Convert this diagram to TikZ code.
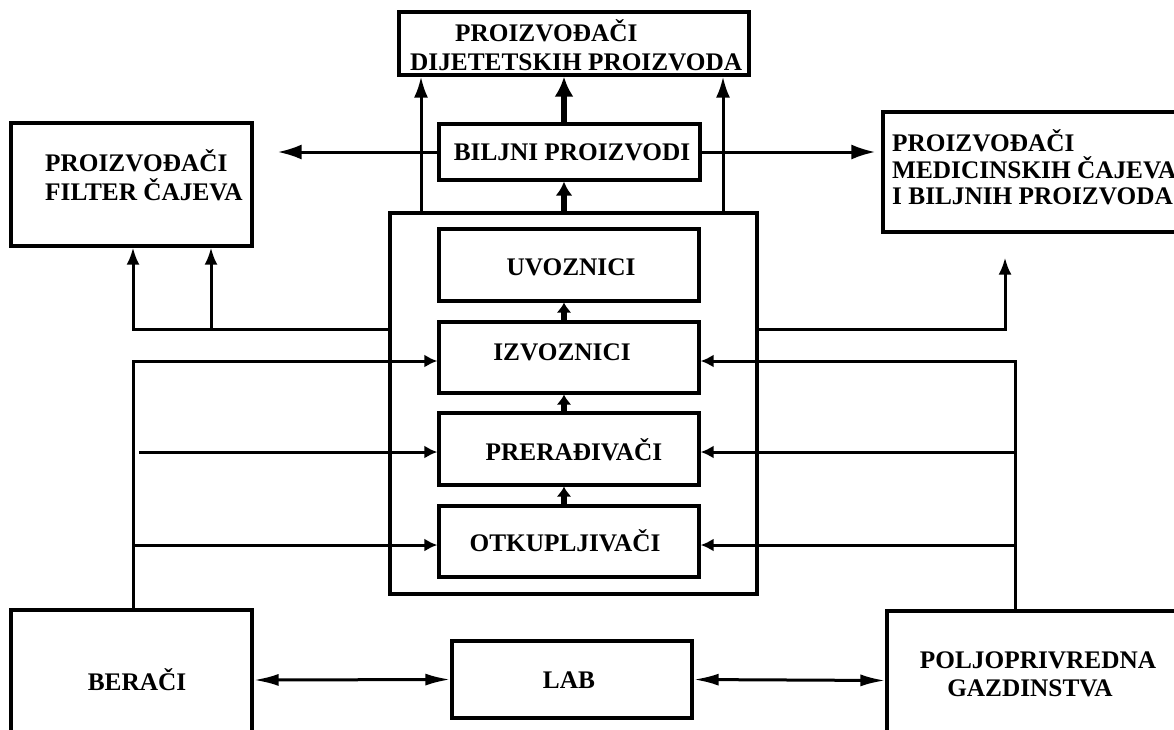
\documentclass[tikz,border=0pt]{standalone}
\usepackage{fontspec}
\setmainfont{Liberation Serif}
\usetikzlibrary{arrows.meta}
\begin{document}
\begin{tikzpicture}[x=1pt,y=-1pt,
  box/.style={draw, line width=3.2pt, inner sep=0pt, fill=white},
  lbl/.style={font=\bfseries\fontsize{25.3}{28}\selectfont, inner sep=0pt},
  arrBig/.style={line width=3pt, -{Latex[length=24pt,width=15pt]}},
  arrUp/.style={line width=3pt, -{Latex[length=21pt,width=14pt]}},
  arrMid/.style={line width=3pt, -{Latex[length=17pt,width=13pt]}},
  arrIn/.style={line width=3pt, -{Latex[length=13pt,width=13pt]}},
  arrBoth/.style={line width=3pt, {Latex[length=25pt,width=12pt]}-{Latex[length=25pt,width=12pt]}},
  thickA/.style={line width=6.5pt, -{Latex[length=20pt,width=19pt]}},
  thickB/.style={line width=6.5pt, -{Latex[length=14pt,width=17pt]}},
  thickC/.style={line width=6pt, -{Latex[length=10pt,width=15pt]}}]
\useasboundingbox (0,0) rectangle (1174,729);
\clip (0,0) rectangle (1174,729);
\fill[white] (0,0) rectangle (1174,729);

% outer frame around the chain of traders
\node[box, minimum width=367, minimum height=381] (frame) at (573.5,403.5) {};

% boxes
\node[box, minimum width=350, minimum height=63]  (top)    at (574,43.5) {};
\node[box, minimum width=261, minimum height=56]  (biljni) at (569.5,152) {};
\node[box, minimum width=241, minimum height=123] (filter) at (131.5,184.5) {};
\node[box, minimum width=307, minimum height=120] (medic)  at (1036.5,172) {};
\node[box, minimum width=260, minimum height=72]  (uvoz)   at (569,265) {};
\node[box, minimum width=260, minimum height=71]  (izvoz)  at (569,357.5) {};
\node[box, minimum width=260, minimum height=72]  (prera)  at (569,449) {};
\node[box, minimum width=260, minimum height=71]  (otkup)  at (569,541.5) {};
\node[box, minimum width=241, minimum height=140] (berac)  at (131.5,680) {};
\node[box, minimum width=240, minimum height=77]  (lab)    at (572,679.5) {};
\node[box, minimum width=303, minimum height=139] (polj)   at (1038.5,680.5) {};

% labels
\node[lbl, anchor=base west] (topA) at (455,41) {PROIZVOĐAČI};
\node[lbl, anchor=base west] (topB) at (410,70) {DIJETETSKIH PROIZVODA};
\node[lbl, anchor=base] (biljniT) at (572,160) {BILJNI PROIZVODI};
\node[lbl, anchor=base west] (filterA) at (45,171) {PROIZVOĐAČI};
\node[lbl, anchor=base west] (filterB) at (45,200) {FILTER ČAJEVA};
\node[lbl, anchor=base west] (medicA) at (892,151) {PROIZVOĐAČI};
\node[lbl, anchor=base west] (medicB) at (892,178) {MEDICINSKIH ČAJEVA};
\node[lbl, anchor=base west] (medicC) at (892,204) {I BILJNIH PROIZVODA};
\node[lbl, anchor=base] (uvozT)  at (571,275) {UVOZNICI};
\node[lbl, anchor=base] (izvozT) at (562,360) {IZVOZNICI};
\node[lbl, anchor=base] (preraT) at (574,460) {PRERAĐIVAČI};
\node[lbl, anchor=base] (otkupT) at (565,551) {OTKUPLJIVAČI};
\node[lbl, anchor=base] (beracT) at (137,690) {BERAČI};
\node[lbl, anchor=base] (labT)   at (569,688) {LAB};
\node[lbl, anchor=base] (poljA)  at (1038,668) {POLJOPRIVREDNA};
\node[lbl, anchor=base] (poljB)  at (1030,696) {GAZDINSTVA};

% junction points
\coordinate (sp)  at (564,0);
\coordinate (fa)  at (421,213);
\coordinate (fb)  at (723,213);
\coordinate (jl)  at (390,329);
\coordinate (jl2) at (133,329);
\coordinate (jl3) at (211,329);
\coordinate (jr)  at (757,329);
\coordinate (jr2) at (1005,329);
\coordinate (li)  at (133,361);
\coordinate (lp)  at (139,452);
\coordinate (lo)  at (133,545);
\coordinate (ri)  at (1015,361);
\coordinate (rp)  at (1015,452);
\coordinate (ro)  at (1015,545);

% main vertical flow
\draw[thickA] (sp |- biljni.north) -- (sp |- top.south);
\draw[thickB] (sp |- frame.north) -- (sp |- biljni.south);
\draw[thickC] (sp |- izvoz.north) -- (sp |- uvoz.south);
\draw[thickC] (sp |- prera.north) -- (sp |- izvoz.south);
\draw[thickC] (sp |- otkup.north) -- (sp |- prera.south);
\draw[arrUp] (fa) -- (fa |- top.south);
\draw[arrUp] (fb) -- (fb |- top.south);

% herbal products to the side producers
\draw[arrBig, shorten >=24pt] (biljni.west) -- (biljni.west -| filter.east);
\draw[arrBig, shorten >=6pt] (biljni.east) -- (biljni.east -| medic.west);

% frame to the side producers
\draw[arrMid] (jl) -- (jl2) -- (jl2 |- filter.south);
\draw[arrMid] (jl3) -- (jl3 |- filter.south);
\draw[arrMid, shorten >=24pt] (jr) -- (jr2) -- (jr2 |- medic.south);

% pickers feeding the chain
\draw[arrIn] (berac.north -| li) -- (li) -- (li -| izvoz.west);
\draw[arrIn] (lp) -- (lp -| prera.west);
\draw[arrIn] (lo) -- (lo -| otkup.west);

% farms feeding the chain
\draw[arrIn] (polj.north -| ri) -- (ri) -- (ri -| izvoz.east);
\draw[arrIn] (rp) -- (rp -| prera.east);
\draw[arrIn] (ro) -- (ro -| otkup.east);

% exchange with LAB
\draw[arrBoth] (berac.east) -- (lab.west);
\draw[arrBoth] (lab.east) -- (polj.west);
\end{tikzpicture}
\end{document}
